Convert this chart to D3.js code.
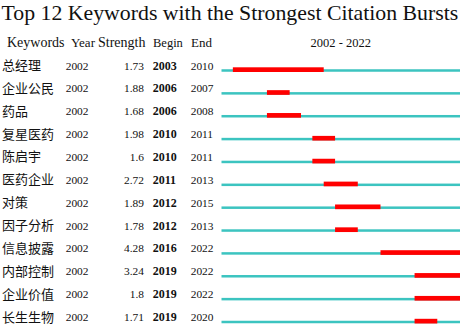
<!DOCTYPE html>
<html>
<head>
<meta charset="utf-8">
<script src="https://cdn.jsdelivr.net/npm/d3@7"></script>
<style>
  body { margin: 0; background: #fff; }
</style>
</head>
<body>
<svg id="chart" width="462" height="325"></svg>
<script>
const keywords = ['总经理', '企业公民', '药品', '复星医药', '陈启宇', '医药企业', '对策', '因子分析', '信息披露', '内部控制', '企业价值', '长生生物'];
const firstYear = [2002, 2002, 2002, 2002, 2002, 2002, 2002, 2002, 2002, 2002, 2002, 2002];
const strength = [1.73, 1.88, 1.68, 1.98, 1.6, 2.72, 1.89, 1.78, 4.28, 3.24, 1.8, 1.71];
const begin = [2003, 2006, 2006, 2010, 2010, 2011, 2012, 2012, 2016, 2019, 2019, 2019];
const end = [2010, 2007, 2008, 2011, 2011, 2013, 2015, 2013, 2022, 2022, 2022, 2020];
const yearRange = [2002, 2022];

const serif = "'Times New Roman', 'Liberation Serif', 'DejaVu Serif', serif";
const cjk = "'Noto Sans CJK SC', sans-serif";

const svg = d3.select('#chart')
  .attr('font-family', serif)
  .attr('fill', '#111');

const years = d3.range(yearRange[0], yearRange[1] + 1);
const xScale = d3.scaleBand()
  .domain(years)
  .range([221.5, 460])
  .padding(0);

const yScale = d3.scalePoint()
  .domain(keywords)
  .range([70.5, 322]);

const rows = keywords.map((k, i) => ({
  keyword: k, year: firstYear[i], strength: strength[i], begin: begin[i], end: end[i]
}));

// title
svg.append('text')
  .attr('x', 1.5)
  .attr('y', 19.5)
  .attr('font-size', 21.8)
  .text('Top 12 Keywords with the Strongest Citation Bursts');

// header
const headY = 46.7;
const header = [
  { label: 'Keywords', x: 7, size: 14, anchor: 'start' },
  { label: 'Year', x: 71, size: 13, anchor: 'start' },
  { label: 'Strength', x: 98, size: 14, anchor: 'start' },
  { label: 'Begin', x: 153, size: 12.5, anchor: 'start' },
  { label: 'End', x: 191, size: 13, anchor: 'start' },
  { label: `${yearRange[0]} - ${yearRange[1]}`, x: (xScale.range()[0] + xScale.range()[1]) / 2, size: 12.5, anchor: 'middle' }
];
svg.append('g').selectAll('text').data(header)
  .enter().append('text')
    .attr('x', d => d.x)
    .attr('y', headY)
    .attr('text-anchor', d => d.anchor)
    .attr('font-size', d => d.size)
    .text(d => d.label);

const rowG = svg.append('g').selectAll('g').data(rows)
  .enter().append('g')
    .attr('transform', d => `translate(0,${yScale(d.keyword)})`);

rowG.append('text')
  .attr('x', 2)
  .attr('y', -0.5)
  .attr('font-family', cjk)
  .attr('font-size', 13)
  .text(d => d.keyword);

rowG.append('text')
  .attr('x', 65.7)
  .attr('y', -1)
  .attr('font-size', 11.4)
  .text(d => d.year);

rowG.append('text')
  .attr('x', 144)
  .attr('y', -1)
  .attr('text-anchor', 'end')
  .attr('font-size', 11.4)
  .text(d => d.strength);

rowG.append('text')
  .attr('x', 152.7)
  .attr('y', -1)
  .attr('font-size', 12)
  .attr('font-weight', 'bold')
  .text(d => d.begin);

rowG.append('text')
  .attr('x', 190.7)
  .attr('y', -1)
  .attr('font-size', 11.4)
  .text(d => d.end);

// timeline
rowG.append('rect')
  .attr('x', xScale.range()[0])
  .attr('y', -1.25)
  .attr('width', xScale.range()[1] - xScale.range()[0])
  .attr('height', 2.5)
  .attr('fill', '#3cc4c0');

rowG.append('rect')
  .attr('x', d => xScale(d.begin))
  .attr('y', -3.2)
  .attr('width', d => xScale(d.end) + xScale.bandwidth() - xScale(d.begin))
  .attr('height', 4.7)
  .attr('fill', '#ff0000');
</script>
</body>
</html>
